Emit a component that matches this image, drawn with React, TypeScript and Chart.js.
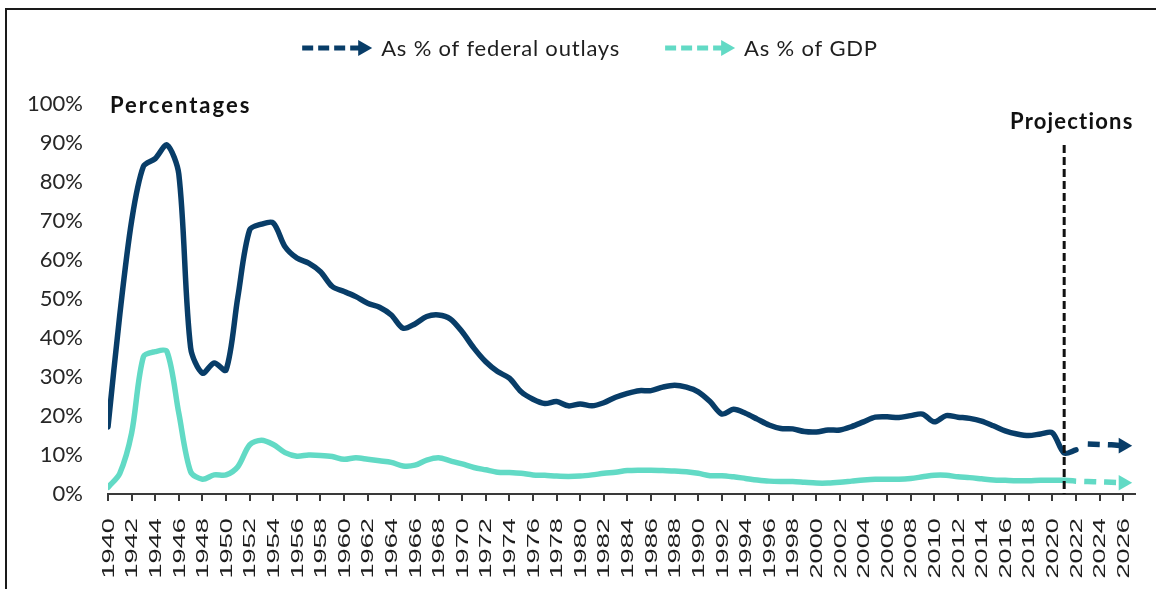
import React, { useEffect, useRef } from "react";
import { Chart, registerables } from "chart.js";

Chart.register(...registerables);

// ---------- DATA ----------
const FIRST_YEAR = 1940;
const LAST_YEAR = 2026;
const PROJECTION_YEAR = 2021;

// Defense outlays as % of federal outlays, actual 1940-2022
const outlaysActual = [
  17.2, 46, 70, 84, 86, 89.5, 82, 37.5, 31, 33.6,
  31.8, 50.5, 67.7, 69.2, 69.5, 63.4, 60.5, 59.2, 57, 53.2,
  51.9, 50.6, 48.9, 47.9, 45.9, 42.5, 43.6, 45.5, 45.9, 44.9,
  41.6, 37.4, 33.9, 31.4, 29.7, 26.2, 24.3, 23.2, 23.7, 22.6,
  23.1, 22.6, 23.4, 24.8, 25.8, 26.5, 26.5, 27.4, 27.9, 27.4,
  26.2, 23.7, 20.5, 21.7, 20.7, 19.2, 17.7, 16.8, 16.7, 16.0,
  15.9, 16.4, 16.4, 17.3, 18.5, 19.7, 19.8, 19.6, 20.1, 20.5,
  18.5, 20.1, 19.7, 19.4, 18.7, 17.5, 16.2, 15.4, 15.0, 15.4,
  15.7, 10.5, 11.3,
];
// Projected 2023-2026
const outlaysProjStart = 2023;
const outlaysProjected = [12.8, 12.7, 12.6, 12.4];

// Defense outlays as % of GDP, actual 1940-2021
const gdpActual = [
  1.7, 5.3, 15.6, 35.2, 36.5, 36.5, 20.7, 5.7, 3.8, 4.9,
  4.9, 7.0, 12.6, 13.8, 12.7, 10.6, 9.7, 10.0, 9.9, 9.6,
  8.9, 9.3, 8.9, 8.5, 8.1, 7.2, 7.4, 8.7, 9.3, 8.5,
  7.7, 6.8, 6.2, 5.6, 5.5, 5.3, 4.9, 4.8, 4.6, 4.5,
  4.6, 4.9, 5.3, 5.6, 6.0, 6.1, 6.1, 6.0, 5.9, 5.7,
  5.3, 4.7, 4.7, 4.4, 4.0, 3.6, 3.3, 3.2, 3.2, 3.0,
  2.8, 2.8, 3.0, 3.3, 3.6, 3.8, 3.8, 3.8, 4.0, 4.4,
  4.8, 4.8, 4.4, 4.2, 3.9, 3.6, 3.5, 3.4, 3.4, 3.5,
  3.5, 3.5,
];
// Projected 2021-2026
const gdpProjStart = 2021;
const gdpProjected = [3.5, 3.3, 3.2, 3.1, 3.0, 2.9];

const yTicks = [0, 10, 20, 30, 40, 50, 60, 70, 80, 90, 100];

const legendLabels = ["As % of federal outlays", "As % of GDP"];
const annotationLeft = "Percentages";
const annotationRight = "Projections";

// ---------- STYLE ----------
const BLUE = "#083d68";
const GREEN = "#62dac5";
const TEXT = "#1e1e1e";
const W = 1156;
const H = 589;

const toPoints = (start: number, arr: number[]) =>
  arr.map((v, i) => ({ x: start + i, y: v }));

function drawArrowMarker(ctx: CanvasRenderingContext2D, x: number, y: number, color: string) {
  ctx.save();
  ctx.strokeStyle = color;
  ctx.fillStyle = color;
  ctx.lineWidth = 5;
  ctx.lineCap = "butt";
  ctx.setLineDash([11, 5]);
  ctx.beginPath();
  ctx.moveTo(x, y);
  ctx.lineTo(x + 60, y);
  ctx.stroke();
  ctx.setLineDash([]);
  ctx.beginPath();
  ctx.moveTo(x + 56, y - 8);
  ctx.lineTo(x + 70, y);
  ctx.lineTo(x + 56, y + 8);
  ctx.closePath();
  ctx.fill();
  ctx.restore();
}

function setSpacing(ctx: any, px: number) {
  if ("letterSpacing" in ctx) ctx.letterSpacing = px + "px";
}

const overlayPlugin = {
  id: "overlay",
  afterDraw(chart: any) {
    const ctx: CanvasRenderingContext2D = chart.ctx;
    const xs = chart.scales.x;
    const area = chart.chartArea;

    // frame (left + top)
    ctx.save();
    ctx.strokeStyle = "#1a1a1a";
    ctx.lineWidth = 2;
    ctx.beginPath();
    ctx.moveTo(6, H);
    ctx.lineTo(6, 9);
    ctx.lineTo(W, 9);
    ctx.stroke();
    ctx.restore();

    // legend
    ctx.save();
    ctx.font = "22px Lato";
    setSpacing(ctx, 0.8);
    ctx.fillStyle = TEXT;
    ctx.textBaseline = "middle";
    ctx.textAlign = "left";
    const markerW = 70;
    const markerGap = 9;
    const itemGap = 45;
    const w0 = ctx.measureText(legendLabels[0]).width;
    const w1 = ctx.measureText(legendLabels[1]).width;
    const total = markerW + markerGap + w0 + itemGap + markerW + markerGap + w1;
    let lx = 590 - total / 2;
    const ly = 48;
    drawArrowMarker(ctx, lx, ly, BLUE);
    ctx.fillText(legendLabels[0], lx + markerW + markerGap, ly + 1);
    lx += markerW + markerGap + w0 + itemGap;
    drawArrowMarker(ctx, lx, ly, GREEN);
    ctx.fillText(legendLabels[1], lx + markerW + markerGap, ly + 1);
    ctx.restore();

    // "Percentages"
    ctx.save();
    ctx.font = "bold 22px Lato";
    setSpacing(ctx, 2);
    ctx.fillStyle = "#111";
    ctx.textBaseline = "middle";
    ctx.textAlign = "left";
    ctx.fillText(annotationLeft, 110, 106);
    ctx.restore();

    // projection line
    const px = xs.getPixelForValue(PROJECTION_YEAR);
    ctx.save();
    ctx.strokeStyle = "#111";
    ctx.lineWidth = 3;
    ctx.setLineDash([8, 4]);
    ctx.beginPath();
    ctx.moveTo(px, 145);
    ctx.lineTo(px, area.bottom);
    ctx.stroke();
    ctx.setLineDash([]);
    ctx.font = "bold 22px Lato";
    setSpacing(ctx, 1.2);
    ctx.fillStyle = "#111";
    ctx.textAlign = "left";
    ctx.textBaseline = "middle";
    ctx.fillText(annotationRight, 1010, 122);
    ctx.restore();

    // x labels (rotated, stretched like the source)
    ctx.save();
    ctx.font = "17px 'Liberation Sans'";
    ctx.fillStyle = TEXT;
    ctx.textAlign = "right";
    ctx.textBaseline = "middle";
    xs.ticks.forEach((t: any) => {
      const x = xs.getPixelForValue(t.value);
      ctx.save();
      ctx.translate(x + 1, area.bottom + 24);
      ctx.rotate(-Math.PI / 2);
      ctx.scale(1.6, 1);
      ctx.fillText(String(t.value), 0, 0);
      ctx.restore();
    });
    ctx.restore();
  },
};

const lastPointRadius = (r: number) => (c: any) =>
  c.dataIndex === c.dataset.data.length - 1 ? r : 0;

export default function App() {
  const ref = useRef<HTMLCanvasElement | null>(null);

  useEffect(() => {
    if (!ref.current) return;
    const chart = new Chart(ref.current, {
      type: "line",
      data: {
        datasets: [
          {
            label: legendLabels[0],
            data: toPoints(FIRST_YEAR, outlaysActual),
            borderColor: BLUE,
            backgroundColor: BLUE,
            borderWidth: 5.5,
            borderCapStyle: "round",
            borderJoinStyle: "round",
            tension: 0.3,
            pointRadius: 0,
          },
          {
            label: legendLabels[0] + " (projected)",
            data: toPoints(outlaysProjStart, outlaysProjected),
            borderColor: BLUE,
            backgroundColor: BLUE,
            borderWidth: 5.5,
            borderDash: [12, 8],
            tension: 0.3,
            pointStyle: "triangle",
            rotation: 90,
            pointRadius: lastPointRadius(9),
            pointBorderWidth: 0,
            pointBackgroundColor: BLUE,
          },
          {
            label: legendLabels[1],
            data: toPoints(FIRST_YEAR, gdpActual),
            borderColor: GREEN,
            backgroundColor: GREEN,
            borderWidth: 5.5,
            borderCapStyle: "round",
            borderJoinStyle: "round",
            tension: 0.3,
            pointRadius: 0,
          },
          {
            label: legendLabels[1] + " (projected)",
            data: toPoints(gdpProjStart, gdpProjected),
            borderColor: GREEN,
            backgroundColor: GREEN,
            borderWidth: 5.5,
            borderDash: [12, 8],
            tension: 0.3,
            pointStyle: "triangle",
            rotation: 90,
            pointRadius: lastPointRadius(9),
            pointBorderWidth: 0,
            pointBackgroundColor: GREEN,
          },
        ],
      },
      options: {
        responsive: false,
        animation: false,
        devicePixelRatio: 1,
        layout: { padding: { left: 0, right: W - 1135, top: 104, bottom: 0 } },
        plugins: {
          legend: { display: false },
          tooltip: { enabled: false },
          title: { display: false },
        },
        scales: {
          x: {
            type: "linear",
            min: FIRST_YEAR,
            max: LAST_YEAR + 1,
            ticks: { stepSize: 2, includeBounds: false, display: false },
            grid: {
              display: true,
              drawOnChartArea: false,
              drawTicks: true,
              tickLength: 7,
              color: "#3a3a3a",
              lineWidth: 2,
            },
            border: { display: true, color: "#3a3a3a", width: 2 },
            afterFit: (s: any) => {
              s.height = H - 494;
            },
          },
          y: {
            type: "linear",
            min: 0,
            max: 100,
            afterBuildTicks: (s: any) => {
              s.ticks = yTicks.map((v) => ({ value: v }));
            },
            ticks: {
              callback: (v: any) => v + "%",
              font: { family: "Lato", size: 22 },
              color: "#262626",
              padding: 25,
            },
            grid: { display: false, drawTicks: false },
            border: { display: false },
            afterFit: (s: any) => {
              s.width = 108;
            },
          },
        },
      },
      plugins: [overlayPlugin],
    } as any);
    return () => chart.destroy();
  }, []);

  return (
    <div style={{ position: "absolute", left: 0, top: 0, width: W, height: H, background: "#fff" }}>
      <canvas ref={ref} width={W} height={H} style={{ display: "block" }} />
    </div>
  );
}
